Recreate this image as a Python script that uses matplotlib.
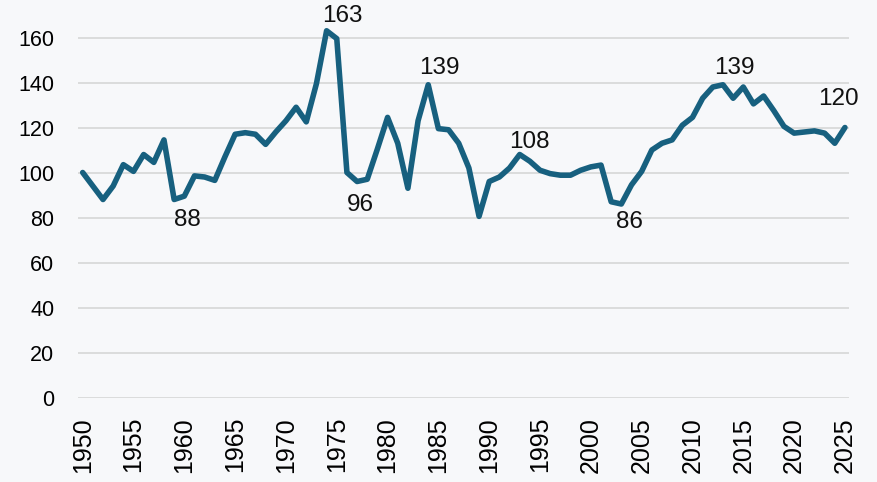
import numpy as np
import matplotlib.pyplot as plt

plt.rcParams['font.family'] = ['Liberation Sans', 'DejaVu Sans']

# index values, 1950-2025
years = np.arange(1950, 2026)
values = [
    100, 94, 88, 94, 103.5, 100.5, 108, 104.5, 114.5, 88,
    89.5, 98.5, 98, 96.5, 107, 117, 117.7, 117, 112.5, 118,
    123, 129, 122.5, 139.5, 163, 159.5, 100, 96, 97, 110.5,
    124.5, 113, 93, 123, 139, 119.5, 119, 113, 102, 80.5,
    96, 98, 102, 108, 105, 101, 99.5, 98.8, 98.8, 101,
    102.5, 103.3, 87, 86, 94.5, 100.5, 110, 113, 114.5, 121,
    124.5, 133, 138, 139, 133, 138, 130.5, 134, 127.5, 120.5,
    117.5, 118, 118.5, 117.5, 113, 120,
]

# years that get a value label, and where the label sits (pixels from the point)
label_years = [1974, 1984, 1993, 2013, 2025, 1959, 1977, 2003]
label_offsets = [(16, 15), (11, 17), (10, 13), (11, 17), (-6, 29),
                 (13, -20), (3, -23), (8, -18)]

bg = '#f7f8fa'
line_color = '#17607f'

fig = plt.figure(figsize=(8.78, 4.82), dpi=100, facecolor=bg)
ax = fig.add_axes([78 / 878, 0.1753, (849 - 78) / 878, 0.8169])
ax.set_facecolor(bg)

ax.plot(years, values, color=line_color, linewidth=4, solid_joinstyle='round',
        solid_capstyle='round', clip_on=False, zorder=3)

for yr, off in zip(label_years, label_offsets):
    v = values[yr - 1950]
    ax.annotate(f'{v:.0f}', (yr, v), xytext=off, textcoords='offset pixels',
                ha='center', va='center', fontsize=17.5, color='#111111')

ax.set_xlim(1949.54, 2025.4)
ax.set_ylim(0, 175)
ax.set_xticks(np.arange(1950, 2026, 5))
ax.set_yticks(np.arange(0, 161, 20))
ax.tick_params(axis='x', length=0, pad=14, labelsize=18, labelrotation=90)
ax.tick_params(axis='y', length=0, pad=17, labelsize=15.5)
ax.grid(axis='y', color='#d9d9d9', linewidth=1.3)
ax.set_axisbelow(True)
for s in ax.spines.values():
    s.set_visible(False)

fig.savefig('out.png', dpi=100, facecolor=bg)
